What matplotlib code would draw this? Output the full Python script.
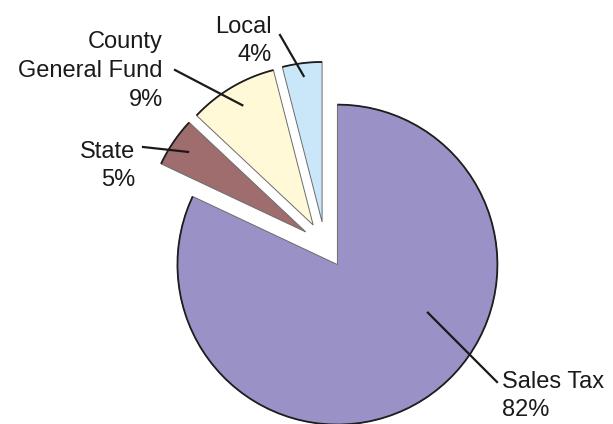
import numpy as np
import matplotlib
matplotlib.use("Agg")
import matplotlib.pyplot as plt

plt.rcParams['font.family'] = ['Liberation Sans', 'DejaVu Sans']

# data
labels = ["Sales Tax", "State", "County\nGeneral Fund", "Local"]
shares = [82, 5, 9, 4]
colors = ["#9a92c7", "#a06d6e", "#fff9d7", "#c9e7f8"]

W, H = 613, 424
R_PX = 160.0          # pie radius in pixels
CX, CY = 325, 245     # pie centre (pixels, y down)

# label layout: text anchor (px), alignment, leader outer end (px), leader inner (r frac, angle deg)
text_pos = [(502, 396, "left"), (135, 166, "right"), (163, 71, "right"), (272, 41, "right")]
leader_out = [(497, 382), (143, 147), (175, 70), (280, 35)]
leader_in = [(0.64, -28), (0.89, None), (0.87, None), (0.92, None)]


def px(x, y):
  return (x - CX) / R_PX, (CY - y) / R_PX


fig = plt.figure(figsize=(W / 100, H / 100), dpi=100)
ax = fig.add_axes([0, 0, 1, 1])

wedges, _ = ax.pie(shares, colors=colors, startangle=90, counterclock=False,
                   explode=[0.145] * 4, radius=1.0,
                   wedgeprops=dict(edgecolor="#6b6b6b", linewidth=0.7))

for w in wedges:
  # darker rim along the outer arc
  th = np.radians(np.linspace(w.theta1, w.theta2, 80))
  ax.plot(w.center[0] + w.r * np.cos(th), w.center[1] + w.r * np.sin(th),
          color="#1e1e1e", lw=1.3, solid_capstyle="butt")

for w, lab, sh, (tx, ty, ha), (ox, oy), (rf, ang) in zip(
    wedges, labels, shares, text_pos, leader_out, leader_in):
  if ang is None:
    ang = (w.theta1 + w.theta2) / 2
  a = np.radians(ang)
  ix = w.center[0] + rf * np.cos(a)
  iy = w.center[1] + rf * np.sin(a)
  x0, y0 = px(ox, oy)
  ax.plot([x0, ix], [y0, iy], color="#1a1a1a", lw=1.6)
  x, y = px(tx, ty)
  ax.text(x, y, f"{lab}\n{sh}%", ha=ha, va="center", multialignment=ha,
          fontsize=17, color="#1a1a1a", linespacing=1.4)

ax.set_xlim(-CX / R_PX, (W - CX) / R_PX)
ax.set_ylim(-(H - CY) / R_PX, CY / R_PX)
ax.set_aspect("auto")
ax.axis("off")

fig.savefig("out.png", dpi=100, facecolor="white")
